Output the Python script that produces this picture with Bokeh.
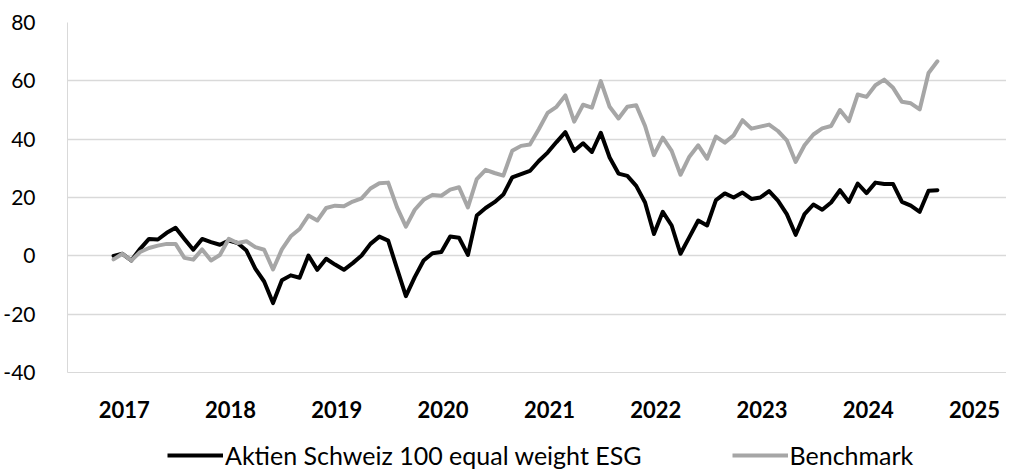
import pandas as pd
from bokeh.plotting import figure
from bokeh.layouts import column
from bokeh.models import Legend, LegendItem, FixedTicker, Range1d, ColumnDataSource
from bokeh.embed import file_html
from bokeh.resources import INLINE

# ---------------- data ----------------
start_month = "2017-06"
fund = [0.0, 0.7, -1.6, 2.4, 5.8, 5.6, 7.9, 9.6, 5.8, 2.1,
        5.8, 4.7, 3.8, 5.2, 4.4, 1.8, -4.4, -8.8, -16.2, -8.4,
        -6.7, -7.5, 0.1, -4.8, -1.0, -3.0, -4.8, -2.5, 0.1, 4.1,
        6.6, 5.2, -4.4, -13.8, -7.3, -1.6, 0.9, 1.3, 6.6, 6.2,
        0.3, 13.8, 16.4, 18.4, 21.0, 26.9, 28.0, 29.1, 32.5, 35.4,
        39.0, 42.4, 36.0, 38.6, 35.6, 42.2, 33.7, 28.2, 27.4, 24.0,
        18.3, 7.5, 15.1, 10.4, 0.7, 6.4, 12.1, 10.4, 19.1, 21.4,
        20.0, 21.7, 19.5, 20.0, 22.2, 18.9, 14.3, 7.2, 14.3, 17.6,
        15.8, 18.3, 22.5, 18.5, 24.8, 21.5, 25.1, 24.6, 24.6, 18.5,
        17.2, 15.1, 22.3, 22.5]
bench = [-1.2, 0.7, -1.6, 1.3, 2.7, 3.5, 4.1, 4.1, -0.7, -1.3,
         2.2, -1.6, 0.3, 5.8, 4.4, 5.0, 3.0, 2.1, -4.7, 2.2,
         6.7, 9.2, 13.8, 12.1, 16.4, 17.2, 17.0, 18.6, 19.7, 23.1,
         24.9, 25.1, 16.6, 10.0, 15.8, 19.2, 20.9, 20.6, 22.7, 23.5,
         16.6, 26.3, 29.5, 28.4, 27.5, 36.0, 37.7, 38.2, 43.4, 49.0,
         51.1, 55.0, 46.0, 51.8, 50.8, 59.9, 51.1, 47.1, 51.1, 51.6,
         44.5, 34.5, 40.5, 36.0, 27.8, 34.0, 37.9, 33.3, 40.9, 38.8,
         41.3, 46.5, 43.6, 44.3, 45.0, 42.8, 39.6, 32.2, 37.9, 41.6,
         43.7, 44.5, 50.0, 46.2, 55.3, 54.5, 58.5, 60.4, 57.6, 52.8,
         52.3, 50.2, 62.7, 66.7]
years = [2017, 2018, 2019, 2020, 2021, 2022, 2023, 2024, 2025]
y_ticks = [-40, -20, 0, 20, 40, 60, 80]
series_names = ["Aktien Schweiz 100 equal weight ESG", "Benchmark"]
colors = ["#000000", "#a6a6a6"]

# months since Jan 2017
dates = pd.period_range(start_month, periods=len(fund), freq="M")
xm = [(d.year - 2017) * 12 + d.month - 1 for d in dates]
src = ColumnDataSource(dict(x=xm, fund=fund, bench=bench))

FONT = "Lato"
LW = 4

p = figure(width=1006, height=434, output_backend="svg", toolbar_location=None,
           x_range=Range1d(-0.2, 105.8), y_range=Range1d(-40, 80),
           min_border_left=64, min_border_right=0, min_border_top=22,
           min_border_bottom=62)
p.outline_line_color = None
p.background_fill_color = "white"
p.border_fill_color = "white"

p.line("x", "fund", source=src, line_color=colors[0], line_width=LW,
       line_join="round", line_cap="round")
p.line("x", "bench", source=src, line_color=colors[1], line_width=LW,
       line_join="round", line_cap="round")

# axes
tick_pos = [(y - 2017) * 12 + 6.2 for y in years]
p.xaxis.ticker = FixedTicker(ticks=tick_pos)
p.xaxis.major_label_overrides = {t: str(y) for t, y in zip(tick_pos, years)}
p.xaxis.major_label_text_font = FONT
p.xaxis.major_label_text_font_style = "bold"
p.xaxis.major_label_text_font_size = "22px"
p.xaxis.major_label_text_color = "#000000"
p.xaxis.major_tick_line_color = None
p.xaxis.minor_tick_line_color = None
p.xaxis.axis_line_color = "#d9d9d9"
p.xaxis.major_label_standoff = 22

p.yaxis.ticker = FixedTicker(ticks=y_ticks)
p.yaxis.major_label_overrides = {v: str(v) for v in y_ticks}
p.yaxis.major_label_text_font = FONT
p.yaxis.major_label_text_font_size = "21px"
p.yaxis.major_label_text_color = "#000000"
p.yaxis.major_tick_line_color = None
p.yaxis.minor_tick_line_color = None
p.yaxis.axis_line_color = "#d9d9d9"
p.yaxis.major_label_standoff = 26

p.xgrid.grid_line_color = None
p.ygrid.grid_line_color = "#d9d9d9"
p.ygrid.grid_line_width = 1.5

# ---------------- legend strip ----------------
# same series, drawn outside this strip's visible range; only the legend shows
lg = figure(width=1006, height=36, output_backend="svg", toolbar_location=None,
            x_axis_type=None, y_axis_type=None,
            x_range=Range1d(-3, -2), y_range=Range1d(-300, -200),
            min_border_left=0, min_border_right=0, min_border_top=0,
            min_border_bottom=0)
lg.outline_line_color = None
lg.background_fill_color = "white"
lg.border_fill_color = "white"
lr1 = lg.line("x", "fund", source=src, line_color=colors[0], line_width=LW)
lr2 = lg.line("x", "bench", source=src, line_color=colors[1], line_width=LW)

legend = Legend(items=[LegendItem(label=series_names[0], renderers=[lr1]),
                       LegendItem(label=series_names[1], renderers=[lr2])],
                orientation="horizontal", location=(100, 0),
                label_text_font=FONT, label_text_font_size="25px",
                label_text_color="#000000",
                glyph_width=56, glyph_height=24, label_standoff=2,
                label_height=24, spacing=90, padding=0, margin=0,
                border_line_color=None, background_fill_alpha=0)
lg.add_layout(legend, "center")

layout = column(p, lg, spacing=0)
open("out.html", "w").write(file_html(layout, INLINE))
